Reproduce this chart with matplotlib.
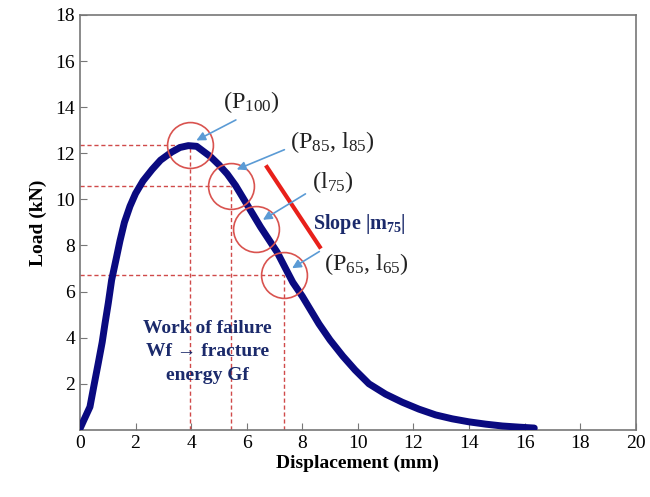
import matplotlib.pyplot as plt

plt.rcParams['font.family'] = ['Liberation Serif', 'DejaVu Serif']
plt.rcParams['mathtext.fontset'] = 'custom'
plt.rcParams['mathtext.rm'] = 'Liberation Serif'
plt.rcParams['mathtext.it'] = 'Liberation Serif:italic'
plt.rcParams['mathtext.bf'] = 'Liberation Serif:bold'

# load-displacement curve
disp = [0.0, 0.15, 0.36, 0.5, 0.66, 0.8, 0.9, 1.02, 1.14, 1.3, 1.44, 1.6, 1.8, 2.0, 2.27,
        2.6, 2.9, 3.3, 3.6, 3.9, 4.2, 4.7, 5.0, 5.3, 5.6, 5.9, 6.2, 6.5, 6.8, 7.1,
        7.4, 7.66, 8.0, 8.3, 8.6, 9.0, 9.46, 9.9, 10.4, 11.0, 11.6, 12.2, 12.8,
        13.4, 14.0, 14.6, 15.2, 15.8, 16.35]
load = [0.05, 0.45, 1.0, 1.9, 2.9, 3.8, 4.6, 5.5, 6.5, 7.4, 8.2, 9.0, 9.7, 10.25, 10.8,
        11.3, 11.7, 12.05, 12.25, 12.33, 12.3, 11.85, 11.5, 11.1, 10.6, 10.0, 9.4,
        8.8, 8.25, 7.7, 7.0, 6.4, 5.8, 5.2, 4.6, 3.9, 3.2, 2.6, 2.0, 1.55, 1.2,
        0.9, 0.65, 0.48, 0.35, 0.25, 0.17, 0.12, 0.08]

# characteristic points (displacement, load)
pt_x = [3.95, 5.45, 6.35, 7.35]
pt_y = [12.35, 10.6, 8.7, 6.7]
guide_x = [3.95, 5.45, 7.35]
guide_y = [12.35, 10.6, 6.7]

# labels: text position, arrow tail, arrow tip
labels = [r'(P$_{100}$)', r'(P$_{85}$, l$_{85}$)', r'(l$_{75}$)', r'(P$_{65}$, l$_{65}$)']
label_xy = [(5.15, 14.2), (7.55, 12.5), (8.35, 10.75), (8.8, 7.2)]
arrow_from = [(5.7, 13.5), (7.45, 12.2), (8.2, 10.3), (8.7, 7.8)]
arrow_to = [(4.1, 12.5), (5.55, 11.25), (6.5, 9.05), (7.55, 6.95)]

slope_x = [6.73, 8.63]
slope_y = [11.4, 7.94]

navy = '#1b2a6b'
red_dash = '#d04a4a'

fig = plt.figure(figsize=(6.5, 4.97), dpi=100)
ax = fig.add_axes([0.123, 0.135, 0.855, 0.835])

for gx, gy in zip(guide_x, guide_y):
    ax.plot([0, gx], [gy, gy], color=red_dash, linestyle='--', linewidth=1.0, dashes=(3, 2))
    ax.plot([gx, gx], [0, gy], color=red_dash, linestyle='--', linewidth=1.0, dashes=(3, 2))

ax.plot(disp, load, color='#0a0a80', linewidth=5, solid_capstyle='round',
        solid_joinstyle='round', zorder=3)

ax.plot(pt_x, pt_y, 'o', markersize=33, markerfacecolor='none', markeredgecolor='#d9534f',
        markeredgewidth=1.2, zorder=4)

ax.plot(slope_x, slope_y, color='#e8201a', linewidth=3, zorder=4)

for (tx, ty), (fx, fy), (ex, ey), lab in zip(label_xy, arrow_from, arrow_to, labels):
    ax.annotate('', xy=(ex, ey), xytext=(fx, fy),
                arrowprops=dict(arrowstyle='-|>', color='#5b9bd5', lw=1.2, mutation_scale=13),
                zorder=5)
    ax.text(tx, ty, lab, fontsize=17.5, ha='left', va='center', color='#222222')

ax.text(8.4, 8.95, r'Slope |m$_{\mathbf{75}}$|', fontsize=14.5, fontweight='bold', color=navy,
        ha='left', va='center')

ax.text(4.6, 3.4, 'Work of failure\nWf \u2192 fracture\nenergy Gf', fontsize=14,
        fontweight='bold', color=navy, ha='center', va='center', linespacing=1.5)

ax.set_xlim(0, 20)
ax.set_ylim(0, 18)
ax.set_xticks(range(0, 21, 2))
ax.set_yticks(range(2, 19, 2))
ax.tick_params(direction='in', labelsize=14, length=5, color='#777777')
for s in ax.spines.values():
    s.set_color('#777777')
    s.set_linewidth(1.2)

ax.set_xlabel('Displacement (mm)', fontsize=14, fontweight='bold', labelpad=2)
ax.set_ylabel('Load (kN)', fontsize=14, fontweight='bold', labelpad=6)

fig.savefig('out.png', dpi=100)
